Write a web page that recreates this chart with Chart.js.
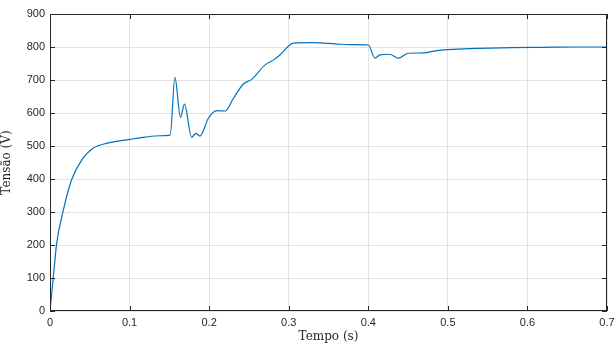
<!DOCTYPE html>
<html>
<head>
<meta charset="utf-8">
<script src="https://cdn.jsdelivr.net/npm/chart.js@4/dist/chart.umd.min.js"></script>
<style>
  html, body { margin: 0; padding: 0; background: #fff; }
  #wrap { width: 616px; height: 347px; position: relative; }
</style>
</head>
<body>
<div id="wrap"><canvas id="chart"></canvas></div>
<script>
// tempo (s) and tensão (V)
const tempo = [0, 0.0042, 0.0084, 0.0168, 0.027, 0.040, 0.054, 0.071, 0.1005, 0.12, 0.138, 0.151,
  0.157, 0.164, 0.169, 0.178, 0.1835, 0.1885, 0.199, 0.2095, 0.22, 0.2304, 0.243, 0.2535, 0.270, 0.281,
  0.289, 0.306, 0.33, 0.36, 0.38, 0.400, 0.4085, 0.4147, 0.427, 0.4377, 0.450, 0.469, 0.486, 0.507, 0.540,
  0.58, 0.62, 0.66, 0.70];
const tensao = [0, 104, 205, 306, 397, 458, 493, 508, 520, 527, 531, 533,
  708, 587, 627, 526, 538, 530, 584, 607, 606, 644, 688, 702, 745, 761,
  776, 812, 813, 809, 807, 806, 766, 776, 778, 766, 781, 782, 789, 793, 796,
  798, 799, 800, 800];
const xTicks = [0, 0.1, 0.2, 0.3, 0.4, 0.5, 0.6, 0.7];
const yTicks = [0, 100, 200, 300, 400, 500, 600, 700, 800, 900];

const axisColor = '#262626';
const tickFont = { family: 'Liberation Sans, Arial, sans-serif', size: 11 };
const titleFont = { family: 'DejaVu Serif, Liberation Serif, serif', size: 12 };

const boxPlugin = {
  id: 'box',
  afterDraw(chart) {
    const ctx = chart.ctx;
    const a = chart.chartArea;
    const xs = chart.scales.x, ys = chart.scales.y;
    ctx.save();
    ctx.strokeStyle = axisColor;
    ctx.lineWidth = 1;
    ctx.strokeRect(a.left + 0.5, a.top + 0.5, a.right - a.left - 1, a.bottom - a.top - 1);
    ctx.beginPath();
    xTicks.forEach(v => {
      const px = Math.round(xs.getPixelForValue(v)) + 0.5;
      ctx.moveTo(px, a.bottom); ctx.lineTo(px, a.bottom - 5);
      ctx.moveTo(px, a.top); ctx.lineTo(px, a.top + 5);
    });
    yTicks.forEach(v => {
      const py = Math.round(ys.getPixelForValue(v)) + 0.5;
      ctx.moveTo(a.left, py); ctx.lineTo(a.left + 5, py);
      ctx.moveTo(a.right, py); ctx.lineTo(a.right - 5, py);
    });
    ctx.stroke();
    ctx.restore();
  }
};

new Chart(document.getElementById('chart'), {
  type: 'line',
  data: {
    datasets: [{
      data: tempo.map((t, i) => ({ x: t, y: tensao[i] })),
      borderColor: '#0072BD',
      borderWidth: 1.2,
      pointRadius: 0,
      cubicInterpolationMode: 'monotone',
      fill: false
    }]
  },
  options: {
    responsive: true,
    maintainAspectRatio: false,
    animation: false,
    layout: { padding: { top: 14, right: 9, left: 0, bottom: 0 } },
    plugins: { legend: { display: false }, tooltip: { enabled: false } },
    scales: {
      x: {
        type: 'linear',
        min: 0, max: 0.7,
        afterBuildTicks(s) { s.ticks = xTicks.map(v => ({ value: v })); },
        afterFit(s) { s.height = 36; s.paddingRight = 0; },
        grid: { color: '#e3e3e3', drawTicks: false },
        border: { display: false },
        ticks: { color: axisColor, font: tickFont, padding: 5, maxRotation: 0,
          callback: v => String(v) },
        title: { display: true, text: 'Tempo (s)', color: axisColor, font: titleFont,
          padding: { top: 0, bottom: 3 } }
      },
      y: {
        min: 0, max: 900,
        afterBuildTicks(s) { s.ticks = yTicks.map(v => ({ value: v })); },
        afterFit(s) { s.width = 50; },
        grid: { color: '#e3e3e3', drawTicks: false },
        border: { display: false },
        ticks: { color: axisColor, font: tickFont, padding: 5 },
        title: { display: true, text: 'Tensão (V)', color: axisColor, font: titleFont,
          padding: { top: 0, bottom: 0 } }
      }
    }
  },
  plugins: [boxPlugin]
});
</script>
</body>
</html>
